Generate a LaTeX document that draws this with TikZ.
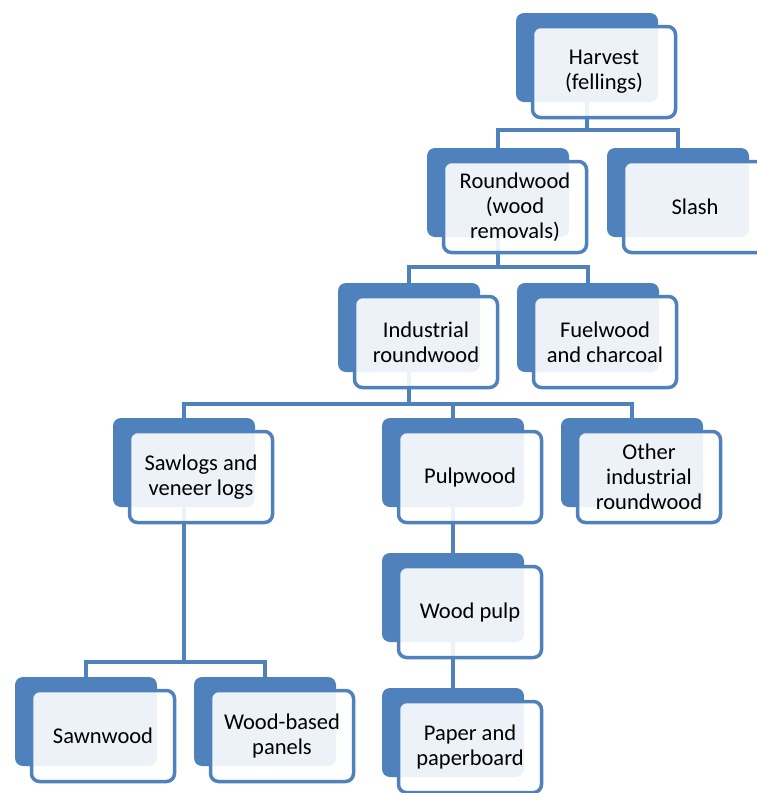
\documentclass[tikz,border=0pt]{standalone}
\usepackage{fontspec}
\setmainfont{Carlito}
\definecolor{smblue}{HTML}{4F81BD}
\pgfdeclarelayer{paper}
\pgfdeclarelayer{bg}
\pgfsetlayers{paper,bg,main}
\tikzset{
  backbox/.style={fill=smblue, rounded corners=8pt, minimum width=142pt, minimum height=89pt, inner sep=0pt},
  frontbox/.style={draw=smblue, line width=3.5pt, fill=white, fill opacity=0.9, text opacity=1,
    rounded corners=8pt, minimum width=143pt, minimum height=91pt, align=center,
    font=\fontsize{22.5}{25}\selectfont, inner sep=0pt},
  link/.style={draw=smblue, line width=4pt}
}
\newcommand\smnode[4]{%
  \node[backbox] (#1b) at (#2,#3) {};
  \node[frontbox] (#1) at ({#2+17},{#3+14.5}) {#4};}
\begin{document}
\begin{tikzpicture}[x=1pt,y=-1pt]
\useasboundingbox (0,0) rectangle (757,793);
\clip (0,0) rectangle (757,793);
\begin{pgfonlayer}{paper}
\fill[white] (0,0) rectangle (757,793);
\end{pgfonlayer}
\smnode{harv}{587}{57.5}{Harvest\\(fellings)}
\smnode{round}{498}{192.5}{Roundwood\\(wood\\removals)}
\smnode{slash}{678}{192.5}{Slash}
\smnode{ind}{409}{327.5}{Industrial\\roundwood}
\smnode{fuel}{588}{327.5}{Fuelwood\\and charcoal}
\smnode{saw}{184}{462.5}{Sawlogs and\\veneer logs}
\smnode{pulp}{453}{462.5}{Pulpwood}
\smnode{other}{632}{462.5}{Other\\industrial\\roundwood}
\smnode{wpulp}{453}{597.5}{Wood pulp}
\smnode{paper}{453}{732.5}{Paper and\\paperboard}
\smnode{sawn}{86}{721.5}{Sawnwood}
\smnode{panel}{265}{721.5}{Wood-based\\panels}
\coordinate (y1) at (0,130);
\coordinate (y2) at (0,267);
\coordinate (y3) at (0,404);
\coordinate (y4) at (0,662);
\begin{pgfonlayer}{bg}
\draw[link] (harvb.south) -- (harvb.south |- y1) -| (roundb.north);
\draw[link] (harvb.south |- y1) -| (slashb.north);
\draw[link] (roundb.south) -- (roundb.south |- y2) -| (indb.north);
\draw[link] (roundb.south |- y2) -| (fuelb.north);
\draw[link] (indb.south) -- (indb.south |- y3) -| (sawb.north);
\draw[link] (indb.south |- y3) -| (pulpb.north);
\draw[link] (indb.south |- y3) -| (otherb.north);
\draw[link] (pulpb.south) -- (wpulpb.north);
\draw[link] (wpulpb.south) -- (paperb.north);
\draw[link] (sawb.south) -- (sawb.south |- y4) -| (sawnb.north);
\draw[link] (sawb.south |- y4) -| (panelb.north);
\end{pgfonlayer}
\end{tikzpicture}
\end{document}
